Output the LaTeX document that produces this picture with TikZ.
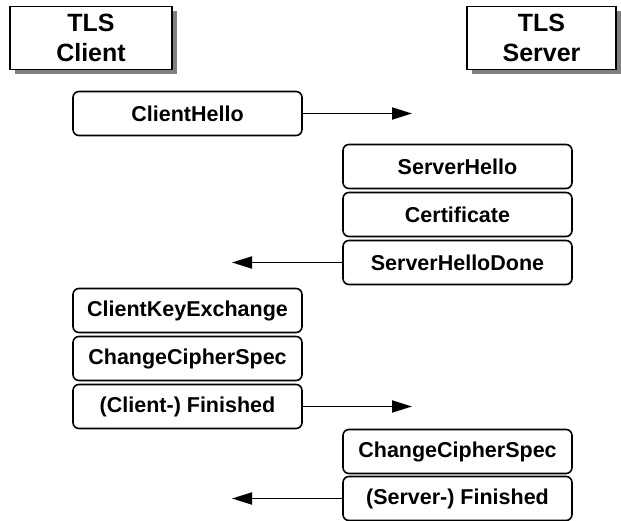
\documentclass[tikz,border=0pt]{standalone}
\usepackage{fontspec}
\setmainfont{Liberation Sans}
\usetikzlibrary{arrows.meta,shadows}
\begin{document}
\begin{tikzpicture}[x=1pt,y=-1pt,
  party/.style={draw=black,line width=1.6pt,fill=white,minimum width=162pt,minimum height=63pt,
    align=center,font=\fontsize{25}{30}\selectfont\bfseries,inner sep=0pt,
    drop shadow={shadow xshift=5pt,shadow yshift=-5pt,fill=black!50,opacity=1}},
  msg/.style={draw=black,line width=1.6pt,rounded corners=6pt,fill=white,minimum width=229pt,
    minimum height=44pt,inner sep=0pt,font=\fontsize{21.5}{24}\selectfont\bfseries},
  flow/.style={line width=1.8pt,-{Triangle[length=20pt,width=12pt]}}]
\useasboundingbox (0,0) rectangle (621,521);
\node[party] (client) at (91,38) {TLS\\Client};
\node[party,minimum width=149pt] (server) at (541.5,38) {TLS\\Server};
\node[msg] (ch) at (187.5,113.5) {ClientHello};
\node[msg] (sh) at (457.5,166.5) {ServerHello};
\node[msg] (cert) at (457.5,214.5) {Certificate};
\node[msg] (shd) at (457.5,262.5) {ServerHelloDone};
\node[msg] (cke) at (187.5,310.5) {ClientKeyExchange};
\node[msg] (ccs) at (187.5,358.5) {ChangeCipherSpec};
\node[msg] (cf) at (187.5,406.5) {(Client-) Finished};
\node[msg] (sccs) at (457.5,451.5) {ChangeCipherSpec};
\node[msg] (sf) at (457.5,498.5) {(Server-) Finished};
\coordinate (a1) at (412,113.5);
\coordinate (a2) at (232,262.5);
\coordinate (a3) at (412,406.5);
\coordinate (a4) at (232,498.5);
\draw[flow] (ch.east) -- (a1);
\draw[flow] (shd.west) -- (a2);
\draw[flow] (cf.east) -- (a3);
\draw[flow] (sf.west) -- (a4);
\end{tikzpicture}
\end{document}
